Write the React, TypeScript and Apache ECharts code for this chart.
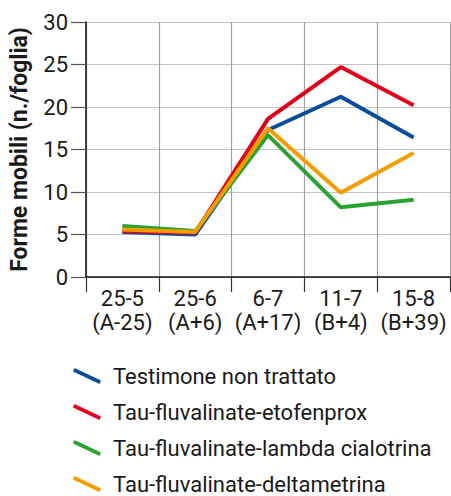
import React, { useEffect, useRef } from "react";
import * as echarts from "echarts";

const categories = ["25-5\n(A-25)", "25-6\n(A+6)", "6-7\n(A+17)", "11-7\n(B+4)", "15-8\n(B+39)"];
const seriesNames = [
  "Testimone non trattato",
  "Tau-fluvalinate-etofenprox",
  "Tau-fluvalinate-lambda cialotrina",
  "Tau-fluvalinate-deltametrina",
];
const testimone = [5.3, 5.0, 17.3, 21.2, 16.4];
const etofenprox = [5.4, 5.2, 18.6, 24.7, 20.2];
const lambda = [6.0, 5.4, 16.7, 8.2, 9.1];
const deltametrina = [5.6, 5.3, 17.5, 9.9, 14.6];
const colors = ["#0b4c9b", "#e3001b", "#2ba334", "#f59c00"];
const yTicks = { min: 0, max: 30, interval: 5 };

const FONT = "Roboto";
const TEXT = "#1a1a1a";

export default function App() {
  const ref = useRef<HTMLDivElement>(null);
  useEffect(() => {
    if (!ref.current) return;
    const chart = echarts.init(ref.current, null, { renderer: "svg" });
    const values = [testimone, etofenprox, lambda, deltametrina];
    chart.setOption({
      animation: false,
      textStyle: { fontFamily: FONT, color: TEXT },
      grid: { left: 83, right: 1, top: 22, bottom: 219, containLabel: false },
      xAxis: {
        type: "category",
        data: categories,
        boundaryGap: true,
        axisLine: { show: true, lineStyle: { color: "#111", width: 1.5 } },
        axisTick: { show: true, length: 15, lineStyle: { color: "#333", width: 1.2 } },
        splitLine: { show: true, lineStyle: { color: "#a0a0a0", width: 1.2 } },
        axisLabel: {
          fontFamily: FONT,
          fontSize: 22,
          color: TEXT,
          margin: 9,
          lineHeight: 24,
          interval: 0,
        },
      },
      yAxis: {
        type: "value",
        min: yTicks.min,
        max: yTicks.max,
        interval: yTicks.interval,
        name: "Forme mobili (n./foglia)",
        nameLocation: "middle",
        nameRotate: 90,
        nameGap: 55,
        nameTextStyle: { fontFamily: FONT, fontSize: 23, fontWeight: "bold", color: TEXT },
        axisLine: { show: true, lineStyle: { color: "#111", width: 1.5 } },
        axisTick: { show: true, length: 15, lineStyle: { color: "#555", width: 1.2 } },
        splitLine: { show: true, lineStyle: { color: "#c4c4c4", width: 1.2 } },
        axisLabel: { fontFamily: FONT, fontSize: 22, color: TEXT, margin: 18 },
      },
      legend: {
        orient: "vertical",
        left: 73,
        top: 365,
        height: 160,
        padding: 0,
        itemWidth: 28,
        itemHeight: 16,
        itemGap: 14,
        icon: "path://M1.5,0 L28,12.5 L26.5,16 L0,3.5 Z",
        textStyle: { fontFamily: FONT, fontSize: 22, color: TEXT, padding: [0, 0, 0, 7] },
        data: seriesNames,
      },
      series: seriesNames.map((name, i) => ({
        name,
        type: "line",
        data: values[i],
        symbol: "none",
        lineStyle: { color: colors[i], width: 4 },
        itemStyle: { color: colors[i] },
        z: 2 + i,
      })),
    });
    return () => chart.dispose();
  }, []);
  return <div ref={ref} style={{ width: 451, height: 496, position: "absolute", left: 0, top: 0 }} />;
}
